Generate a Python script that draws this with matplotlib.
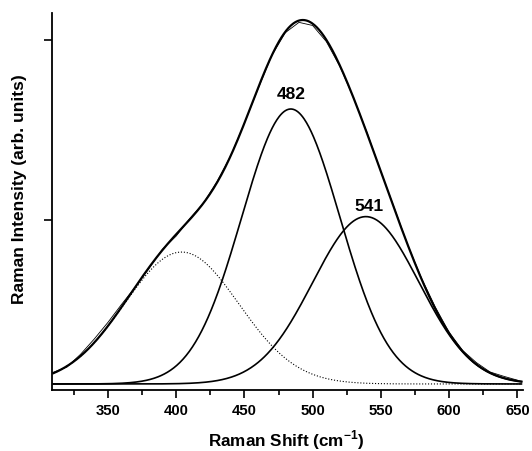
import numpy as np
import matplotlib
matplotlib.use('Agg')
import matplotlib.pyplot as plt

plt.rcParams['font.family'] = ['Liberation Sans', 'DejaVu Sans']
plt.rcParams['font.weight'] = 'bold'
plt.rcParams['mathtext.fontset'] = 'custom'
plt.rcParams['mathtext.bf'] = 'Liberation Sans:bold'
plt.rcParams['mathtext.rm'] = 'Liberation Sans:bold'

# fitted gaussian components (centre, height above baseline, sigma), cm-1 / arb. units
peak_centres = [404, 484, 539]
peak_heights = [0.733, 1.528, 0.930]
peak_sigmas = [42, 36, 39]
peak_styles = [':', '-', '-']
baseline = 0.089

# measured spectrum, read as small deviations from the fit envelope
meas_x = np.arange(310, 651, 10)
meas_resid = [0.005, -0.005, 0.01, 0.02, 0.02, 0.015, 0.0, -0.005, 0.005,
              -0.01, 0.005, 0.0, 0.005, 0.0, 0.0, -0.005, 0.0, -0.005,
              -0.01, -0.01, -0.01, -0.005, 0.0, 0.005, 0.0, 0.005, 0.0,
              0.005, 0.01, 0.005, 0.005, 0.01, 0.005, 0.01, 0.005]

labels = ['482', '541']
label_x = [484, 541.5]
label_y = [1.672, 1.05]


def gauss(x, c, h, s):
    return h * np.exp(-(x - c) ** 2 / (2 * s ** 2))


def envelope(x):
    return baseline + sum(gauss(x, c, h, s) for c, h, s in
                          zip(peak_centres, peak_heights, peak_sigmas))


fig = plt.figure(figsize=(5.32, 4.51), dpi=100)
ax = fig.add_axes([0.0977, 0.1353, 0.885, 0.8357])

x = np.linspace(310, 653, 600)
for c, h, s, ls in zip(peak_centres, peak_heights, peak_sigmas, peak_styles):
    lw = 0.8 if ls == ':' else 1.2
    ax.plot(x, baseline + gauss(x, c, h, s), color='black', ls=ls, lw=lw)

ax.plot(meas_x, envelope(meas_x) + np.array(meas_resid), color='black', lw=0.6)
ax.plot(x, envelope(x), color='black', lw=1.6)

for t, lx, ly in zip(labels, label_x, label_y):
    ax.text(lx, ly, t, ha='center', va='baseline', fontsize=12.5,
            fontweight='bold')

ax.set_xlim(309, 654)
ax.set_ylim(0.0556, 2.15)
ax.set_xticks([350, 400, 450, 500, 550, 600, 650])
ax.set_xticks(np.arange(325, 654, 50), minor=True)
ax.set_yticks([1, 2])
ax.set_yticklabels([])
ax.spines['top'].set_visible(False)
ax.spines['right'].set_visible(False)
for sp in ['left', 'bottom']:
    ax.spines[sp].set_linewidth(1.3)
ax.tick_params(which='major', length=6, width=1.2, labelsize=10.7, pad=4)
ax.tick_params(which='minor', length=3.5, width=1.2)
ax.tick_params(axis='y', which='minor', left=False)

ax.set_xlabel('Raman Shift (cm$^{\\mathbf{-1}}$)', fontsize=12.3,
              fontweight='bold', va='center')
ax.xaxis.set_label_coords(0.498, -0.133)
ax.set_ylabel('Raman Intensity (arb. units)', fontsize=12.5,
              fontweight='bold', va='center')
ax.yaxis.set_label_coords(-0.07, 0.533)

fig.savefig('out.png', dpi=100)
